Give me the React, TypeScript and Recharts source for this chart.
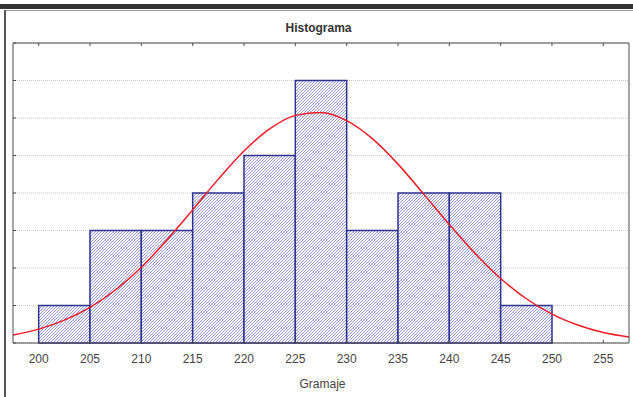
import { ComposedChart, Line, XAxis, YAxis, CartesianGrid, ReferenceArea } from "recharts";

// histogram bins (Gramaje) and frequencies
const binEdges = [200, 205, 210, 215, 220, 225, 230, 235, 240, 245, 250];
const binCounts = [1, 3, 3, 4, 5, 7, 3, 4, 4, 1];

// fitted normal curve
const curveX = [197.5, 200, 202.5, 205, 207.5, 210, 212.5, 215, 217.5, 220, 222.5, 225, 227.5, 230, 232.5, 235, 237.5, 240, 242.5, 245, 247.5, 250, 252.5, 255, 257.5];
const curveY = [0.21, 0.37, 0.61, 0.95, 1.42, 2.02, 2.75, 3.55, 4.37, 5.12, 5.71, 6.07, 6.15, 5.93, 5.45, 4.77, 3.97, 3.16, 2.39, 1.72, 1.18, 0.77, 0.48, 0.28, 0.16];

const xTicks = [200, 205, 210, 215, 220, 225, 230, 235, 240, 245, 250, 255];
const yTicks = [0, 1, 2, 3, 4, 5, 6, 7, 8];

const curveData = curveX.map((x, i) => ({ x, fit: curveY[i] }));

const FONT = "'Liberation Sans', Arial, sans-serif";
const AXIS = "#4a4a4a";

const BottomTick = (props: any) => {
  const { x, y, payload } = props;
  return (
    <g>
      <line x1={x} y1={y} x2={x} y2={y - 3} stroke={AXIS} />
      <text x={x} y={y + 20} textAnchor="middle" fill="#444" fontSize={12} fontFamily={FONT}>
        {payload.value}
      </text>
    </g>
  );
};

const TopTick = (props: any) => {
  const { x, y } = props;
  return <line x1={x} y1={y} x2={x} y2={y + 3} stroke={AXIS} />;
};

const LeftTick = (props: any) => {
  const { x, y } = props;
  return <line x1={x} y1={y} x2={x + 3} y2={y} stroke={AXIS} />;
};

const RightTick = (props: any) => {
  const { x, y } = props;
  return <line x1={x} y1={y} x2={x - 3} y2={y} stroke={AXIS} />;
};

export default function App() {
  return (
    <div style={{ position: "absolute", left: 0, top: 0, width: 633, height: 397, background: "#fff" }}>
      {/* window frame */}
      <div style={{ position: "absolute", left: 0, top: 4, width: 633, height: 5, background: "#333" }} />
      <div style={{ position: "absolute", left: 5, top: 10, width: 628, height: 1, background: "#999" }} />
      <div style={{ position: "absolute", left: 4, top: 10, width: 2, height: 387, background: "#555" }} />

      <div
        style={{
          position: "absolute",
          left: 0,
          top: 21,
          width: 637,
          textAlign: "center",
          fontFamily: FONT,
          fontWeight: "bold",
          fontSize: 12,
          color: "#333",
        }}
      >
        Histograma
      </div>
      <div
        style={{
          position: "absolute",
          left: 0,
          top: 377,
          width: 645,
          textAlign: "center",
          fontFamily: "'Liberation Sans Narrow', 'Arial Narrow', sans-serif",
          fontSize: 12,
          color: "#444",
        }}
      >
        Gramaje
      </div>

      <ComposedChart
        width={633}
        height={397}
        data={curveData}
        margin={{ top: 42, right: 3, bottom: 34, left: 12 }}
        style={{ position: "absolute", left: 0, top: 0 }}
      >
        <defs>
          <pattern id="hatch" patternUnits="userSpaceOnUse" width={3} height={3}>
            <rect width={3} height={3} fill="#ffffff" />
            <path d="M0,3 L3,0 M-1,1 L1,-1 M2,4 L4,2" stroke="#6d73cf" strokeWidth={0.75} />
          </pattern>
        </defs>
        <CartesianGrid
          xAxisId="b"
          yAxisId="l"
          vertical={false}
          stroke="#c4c4c4"
          strokeDasharray="1 1"
        />
        <XAxis
          xAxisId="b"
          dataKey="x"
          type="number"
          orientation="bottom"
          domain={[197.5, 257.5]}
          ticks={xTicks}
          allowDataOverflow
          height={20}
          tickSize={0}
          tickMargin={0}
          tickLine={false}
          axisLine={{ stroke: AXIS }}
          tick={<BottomTick />}
          interval={0}
        />
        <XAxis
          xAxisId="t"
          dataKey="x"
          type="number"
          orientation="top"
          domain={[197.5, 257.5]}
          ticks={xTicks}
          allowDataOverflow
          height={1}
          tickSize={0}
          tickMargin={0}
          tickLine={false}
          axisLine={{ stroke: AXIS }}
          tick={<TopTick />}
          interval={0}
        />
        <YAxis
          yAxisId="l"
          orientation="left"
          domain={[0, 8]}
          ticks={yTicks}
          width={1}
          tickSize={0}
          tickMargin={0}
          tickLine={false}
          axisLine={{ stroke: AXIS }}
          tick={<LeftTick />}
          interval={0}
        />
        <YAxis
          yAxisId="r"
          orientation="right"
          domain={[0, 8]}
          ticks={yTicks}
          width={1}
          tickSize={0}
          tickMargin={0}
          tickLine={false}
          axisLine={{ stroke: AXIS }}
          tick={<RightTick />}
          interval={0}
        />
        {binCounts.map((count, i) => (
          <ReferenceArea
            key={i}
            xAxisId="b"
            yAxisId="l"
            x1={binEdges[i]}
            x2={binEdges[i + 1]}
            y1={0}
            y2={count}
            fill="url(#hatch)"
            fillOpacity={1}
            stroke="#2e3290"
            strokeWidth={1.5}
          />
        ))}
        <Line
          xAxisId="b"
          yAxisId="l"
          dataKey="fit"
          type="monotone"
          stroke="#ee1c25"
          strokeWidth={1.5}
          dot={false}
          isAnimationActive={false}
        />
      </ComposedChart>
    </div>
  );
}
